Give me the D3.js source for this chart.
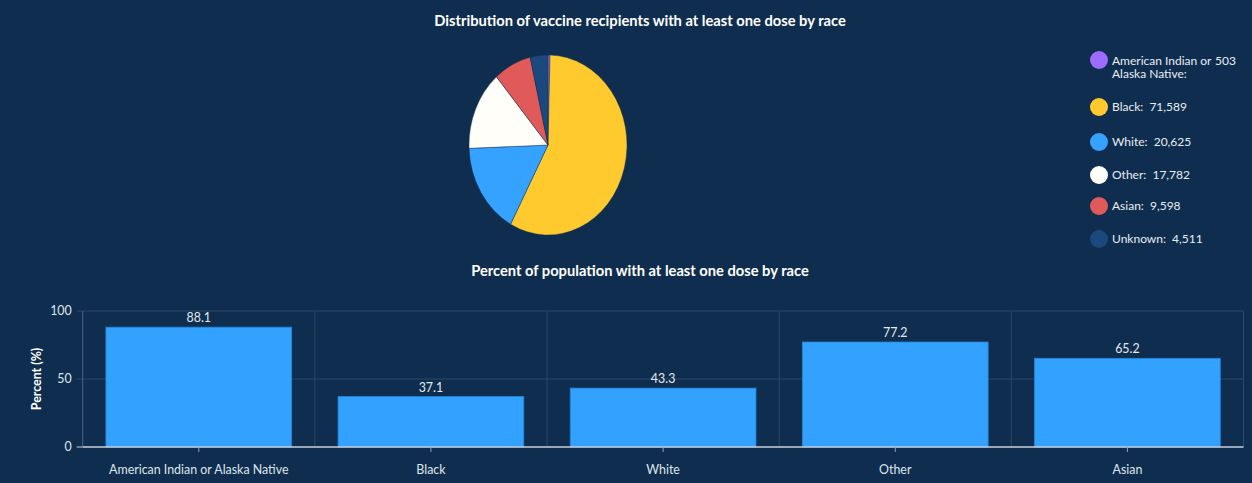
<!DOCTYPE html>
<html><head><meta charset="utf-8">
<script src="https://cdn.jsdelivr.net/npm/d3@7"></script>
<style>
html,body{margin:0;padding:0;background:#0f2e4f;}
svg{display:block;font-family:"Segoe UI",Lato,"Open Sans",sans-serif;}
</style></head><body>
<svg id="c" width="1252" height="483"></svg>
<script>
// Pie data
const pieCategories = ["American Indian or Alaska Native", "Black", "White", "Other", "Asian", "Unknown"];
const pieValues = [503, 71589, 20625, 17782, 9598, 4511];
const pieColors = ["#9b6cff", "#ffca2e", "#35a2ff", "#fffef8", "#e05a5a", "#1b497d"];
const legendLabels = ["American Indian or|Alaska Native:", "Black:", "White:", "Other:", "Asian:", "Unknown:"];
const legendValues = ["503", "71,589", "20,625", "17,782", "9,598", "4,511"];
// Bar data
const barCategories = ["American Indian or Alaska Native", "Black", "White", "Other", "Asian"];
const barValues = [88.1, 37.1, 43.3, 77.2, 65.2];
const yTicks = [0, 50, 100];

(function(){
const FS = 12.4, LFS = 12;
const svg = d3.select("#c");
svg.append("rect").attr("width",1252).attr("height",483).attr("fill","#0f2e4f");

// Titles
svg.append("text").attr("x",640).attr("y",26).attr("text-anchor","middle")
  .attr("fill","#ffffff").attr("font-size",14.7).attr("font-weight","bold")
  .text("Distribution of vaccine recipients with at least one dose by race");
svg.append("text").attr("x",640).attr("y",276).attr("text-anchor","middle")
  .attr("fill","#ffffff").attr("font-size",14.7).attr("font-weight","bold")
  .text("Percent of population with at least one dose by race");

// Pie (slightly elliptical)
const rx = 79, ry = 90;
const pie = d3.pie().sort(null).value(d => d)(pieValues);
const arc = d3.arc().innerRadius(0).outerRadius(rx);
const pg = svg.append("g").attr("transform", `translate(548,145) scale(1,${ry/rx})`);
pg.selectAll("path").data(pie).join("path")
  .attr("d", arc).attr("fill", (d,i) => pieColors[i])
  .attr("stroke","#0f2e4f").attr("stroke-width",0.4);

// Legend
const legendY = [60, 107, 142, 175, 206, 239];
const lg = svg.append("g");
legendLabels.forEach((lab, i) => {
  const yy = legendY[i];
  lg.append("circle").attr("cx",1099).attr("cy",yy).attr("r",9).attr("fill",pieColors[i]);
  const parts = lab.split("|");
  const t = lg.append("text").attr("x",1112).attr("fill","#e8edf3").attr("font-size",LFS);
  if (parts.length > 1) {
    t.attr("y", yy+5);
    t.append("tspan").attr("x",1112).attr("y",yy+5).text(parts[0]);
    t.append("tspan").attr("x",1215).attr("y",yy+5).text(legendValues[i]);
    t.append("tspan").attr("x",1112).attr("y",yy+18).text(parts[1]);
  } else {
    t.attr("y",yy+4).text(lab + "\u00a0 " + legendValues[i]);
  }
});

// Bar chart
const pLeft = 82.7, pRight = 1243.5, pTop = 311, pBottom = 447;
const x = d3.scaleBand().domain(barCategories).range([pLeft, pRight]).paddingInner(0.2).paddingOuter(0.1);
const y = d3.scaleLinear().domain([0, 100]).range([pBottom, pTop]);
const gridColor = "#2a4867";

const bg = svg.append("g");
bg.selectAll("line.h").data(yTicks.filter(t => t > 0)).join("line")
  .attr("x1", pLeft - 6).attr("x2", pRight).attr("y1", d => y(d)).attr("y2", d => y(d))
  .attr("stroke", gridColor).attr("stroke-width",1);
const step = x.step();
bg.selectAll("line.v").data(barCategories).join("line")
  .attr("x1", (d,i) => pLeft + step*(i+1)).attr("x2", (d,i) => pLeft + step*(i+1))
  .attr("y1", pTop).attr("y2", pBottom)
  .attr("stroke", gridColor).attr("stroke-width",1);
bg.append("line").attr("x1",pLeft).attr("x2",pLeft).attr("y1",pTop).attr("y2",pBottom)
  .attr("stroke","#4a6583").attr("stroke-width",1);
bg.append("line").attr("x1",pLeft-6).attr("x2",pLeft).attr("y1",pBottom).attr("y2",pBottom)
  .attr("stroke","#c9d1db").attr("stroke-width",1);

bg.selectAll("rect.bar").data(barValues).join("rect")
  .attr("x", (d,i) => x(barCategories[i])).attr("width", x.bandwidth())
  .attr("y", d => y(d)).attr("height", d => pBottom - y(d))
  .attr("fill","#33a1ff").attr("stroke","#2584d6").attr("stroke-width",0.8);

bg.selectAll("text.val").data(barValues).join("text")
  .attr("x", (d,i) => x(barCategories[i]) + x.bandwidth()/2)
  .attr("y", d => y(d) - 5).attr("text-anchor","middle")
  .attr("fill","#e3e9f0").attr("font-size",FS).text(d => d.toFixed(1));

const xAxis = bg.append("g").attr("transform",`translate(0,${pBottom})`)
  .call(d3.axisBottom(x).tickSize(5).tickPadding(13));
xAxis.select(".domain").attr("stroke","#c9d1db").attr("stroke-width",1.5)
  .attr("d", `M${pLeft},0H${pRight}`);
xAxis.selectAll(".tick line").attr("stroke","#8fa0b3");
xAxis.selectAll(".tick text").attr("fill","#dfe5ec").attr("font-size",FS)
  .attr("font-family","'Segoe UI',Lato,'Open Sans',sans-serif");

const yAxis = bg.append("g").attr("transform",`translate(${pLeft},0)`)
  .call(d3.axisLeft(y).tickValues(yTicks).tickSize(0).tickPadding(11));
yAxis.select(".domain").remove();
yAxis.selectAll(".tick text").attr("fill","#dfe5ec").attr("font-size",FS)
  .attr("font-family","'Segoe UI',Lato,'Open Sans',sans-serif");

svg.append("text").attr("transform",`translate(41,${(pTop+pBottom)/2}) rotate(-90)`)
  .attr("text-anchor","middle").attr("fill","#ffffff").attr("font-size",FS).attr("font-weight","bold")
  .text("Percent (%)");
})();
</script>
</body></html>
